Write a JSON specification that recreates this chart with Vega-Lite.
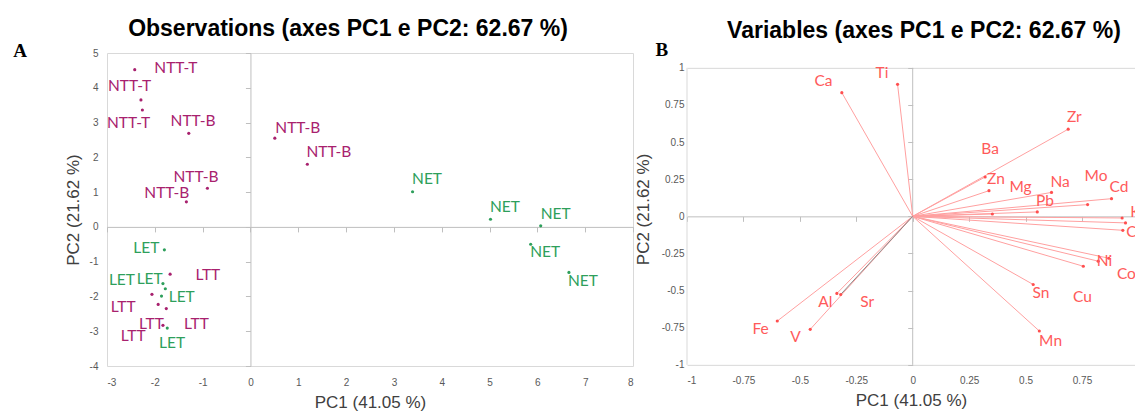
{
  "$schema": "https://vega.github.io/schema/vega-lite/v6.json",
  "padding": {"left": 12, "top": 17, "right": 0, "bottom": 0},
  "spacing": 0,
  "config": {
    "view": {"stroke": "#d9d9d9"},
    "axis": {"labelFont": "Liberation Sans", "labelFontSize": 10, "labelColor": "#595959", "titleFont": "Liberation Sans", "titleFontSize": 17, "titleFontWeight": "normal", "titleColor": "#404040", "grid": false},
    "title": {"font": "Liberation Sans", "fontSize": 23, "fontWeight": "bold", "color": "#000000"}
  },
  "datasets": {
    "obs": [
      {"label": "NTT-T", "PC1": -2.42, "PC2": 4.52, "lx": -2.01, "ly": 4.57},
      {"label": "NTT-T", "PC1": -2.29, "PC2": 3.65, "lx": -2.98, "ly": 4.04},
      {"label": "NTT-T", "PC1": -2.26, "PC2": 3.36, "lx": -3.0, "ly": 2.99},
      {"label": "NTT-B", "PC1": -1.29, "PC2": 2.69, "lx": -1.67, "ly": 3.05},
      {"label": "NTT-B", "PC1": -0.90, "PC2": 1.11, "lx": -1.61, "ly": 1.43},
      {"label": "NTT-B", "PC1": -1.34, "PC2": 0.72, "lx": -2.22, "ly": 0.97},
      {"label": "NTT-B", "PC1": 0.51, "PC2": 2.55, "lx": 0.52, "ly": 2.85},
      {"label": "NTT-B", "PC1": 1.19, "PC2": 1.80, "lx": 1.17, "ly": 2.15},
      {"label": "NET", "PC1": 3.39, "PC2": 1.01, "lx": 3.38, "ly": 1.37},
      {"label": "NET", "PC1": 5.02, "PC2": 0.22, "lx": 5.01, "ly": 0.57},
      {"label": "NET", "PC1": 6.07, "PC2": 0.03, "lx": 6.07, "ly": 0.36},
      {"label": "NET", "PC1": 5.86, "PC2": -0.50, "lx": 5.85, "ly": -0.73},
      {"label": "NET", "PC1": 6.66, "PC2": -1.31, "lx": 6.64, "ly": -1.56},
      {"label": "LET", "PC1": -1.80, "PC2": -0.66, "lx": -2.45, "ly": -0.61},
      {"label": "LET", "PC1": -1.83, "PC2": -1.63, "lx": -2.38, "ly": -1.51},
      {"label": "LET", "PC1": -1.78, "PC2": -1.78, "lx": -2.96, "ly": -1.54},
      {"label": "LET", "PC1": -1.86, "PC2": -1.99, "lx": -1.71, "ly": -2.01},
      {"label": "LET", "PC1": -1.74, "PC2": -2.91, "lx": -1.91, "ly": -3.35},
      {"label": "LTT", "PC1": -1.68, "PC2": -1.36, "lx": -1.15, "ly": -1.39},
      {"label": "LTT", "PC1": -2.06, "PC2": -1.94, "lx": -2.92, "ly": -2.29},
      {"label": "LTT", "PC1": -1.93, "PC2": -2.23, "lx": -2.33, "ly": -2.78},
      {"label": "LTT", "PC1": -1.76, "PC2": -2.35, "lx": -1.39, "ly": -2.80},
      {"label": "LTT", "PC1": -1.83, "PC2": -2.83, "lx": -2.71, "ly": -3.15}
    ],
    "vars": [
      {"name": "Ti", "PC1": -0.067, "PC2": 0.889, "lx": -0.136, "ly": 0.965},
      {"name": "Ca", "PC1": -0.314, "PC2": 0.833, "lx": -0.395, "ly": 0.911},
      {"name": "Zr", "PC1": 0.689, "PC2": 0.587, "lx": 0.716, "ly": 0.670},
      {"name": "Ba", "PC1": 0.321, "PC2": 0.265, "lx": 0.343, "ly": 0.455},
      {"name": "Zn", "PC1": 0.338, "PC2": 0.173, "lx": 0.369, "ly": 0.253},
      {"name": "Mg", "PC1": 0.353, "PC2": 0.016, "lx": 0.478, "ly": 0.199},
      {"name": "Na", "PC1": 0.615, "PC2": 0.161, "lx": 0.653, "ly": 0.233},
      {"name": "Pb", "PC1": 0.552, "PC2": 0.030, "lx": 0.586, "ly": 0.105},
      {"name": "Mo", "PC1": 0.775, "PC2": 0.079, "lx": 0.812, "ly": 0.273},
      {"name": "Cd", "PC1": 0.881, "PC2": 0.119, "lx": 0.914, "ly": 0.199},
      {"name": "K", "PC1": 0.928, "PC2": -0.011, "lx": 0.987, "ly": 0.032},
      {"name": "Li", "PC1": 0.943, "PC2": -0.044, "lx": 1.04, "ly": -0.03},
      {"name": "Cr", "PC1": 0.931, "PC2": -0.094, "lx": 0.982, "ly": -0.103},
      {"name": "Ni", "PC1": 0.822, "PC2": -0.302, "lx": 0.850, "ly": -0.304},
      {"name": "Co", "PC1": 0.869, "PC2": -0.282, "lx": 0.947, "ly": -0.385},
      {"name": "Cu", "PC1": 0.756, "PC2": -0.336, "lx": 0.752, "ly": -0.546},
      {"name": "Sn", "PC1": 0.534, "PC2": -0.459, "lx": 0.568, "ly": -0.519},
      {"name": "Mn", "PC1": 0.561, "PC2": -0.772, "lx": 0.611, "ly": -0.841},
      {"name": "Fe", "PC1": -0.600, "PC2": -0.705, "lx": -0.674, "ly": -0.761},
      {"name": "V", "PC1": -0.454, "PC2": -0.761, "lx": -0.519, "ly": -0.815},
      {"name": "Al", "PC1": -0.336, "PC2": -0.519, "lx": -0.387, "ly": -0.580},
      {"name": "Sr", "PC1": -0.319, "PC2": -0.526, "lx": -0.202, "ly": -0.580}
    ]
  },
  "hconcat": [
    {
      "width": 526,
      "height": 313,
      "title": {"text": "Observations (axes PC1 e PC2: 62.67 %)", "offset": 1.3, "dx": -22},
      "data": {"name": "obs"},
      "resolve": {"axis": {"x": "independent", "y": "independent"}},
      "layer": [
        {
          "mark": {"type": "circle", "size": 10, "opacity": 1},
          "encoding": {
            "x": {"field": "PC1", "type": "quantitative", "scale": {"domain": [-3, 8], "nice": false, "zero": false},
              "axis": {"orient": "bottom", "title": "PC1 (41.05 %)", "values": [-3, -2, -1, 0, 1, 2, 3, 4, 5, 6, 7, 8], "ticks": false, "tickSize": 0, "domain": false, "labelPadding": 11, "titlePadding": 7,
                "labelExpr": "datum.value < 0 ? '-' + format(-datum.value, '~g') : format(datum.value, '~g')"}},
            "y": {"field": "PC2", "type": "quantitative", "scale": {"domain": [-4, 5], "nice": false, "zero": false},
              "axis": {"orient": "left", "title": "PC2 (21.62 %)", "values": [-4, -3, -2, -1, 0, 1, 2, 3, 4, 5], "ticks": false, "tickSize": 0, "domain": false, "labelPadding": 9, "titlePadding": 7,
                "labelExpr": "datum.value < 0 ? '-' + format(-datum.value, '~g') : format(datum.value, '~g')"}},
            "color": {"field": "label", "type": "nominal", "scale": {"domain": ["NTT-T", "NTT-B", "LTT", "NET", "LET"], "range": ["#a8216e", "#a8216e", "#a8216e", "#2e9f5b", "#2e9f5b"]}, "legend": null}
          }
        },
        {
          "mark": {"type": "text", "font": "Lato", "fontSize": 15.5, "align": "left", "baseline": "middle"},
          "encoding": {
            "x": {"field": "lx", "type": "quantitative",
              "axis": {"orient": "bottom", "offset": -139.1, "labels": false, "ticks": true, "tickSize": 5, "tickColor": "#bfbfbf", "domain": true, "domainColor": "#bfbfbf", "title": null, "values": [-3, -2, -1, 0, 1, 2, 3, 4, 5, 6, 7, 8]}},
            "y": {"field": "ly", "type": "quantitative",
              "axis": {"orient": "left", "offset": -143.45, "labels": false, "ticks": true, "tickSize": 5, "tickColor": "#bfbfbf", "domain": true, "domainColor": "#bfbfbf", "title": null, "values": [-4, -3, -2, -1, 0, 1, 2, 3, 4, 5]}},
            "text": {"field": "label"},
            "color": {"field": "label", "type": "nominal", "legend": null}
          }
        },
        {
          "data": {"values": [{"letter": "A"}]},
          "mark": {"type": "text", "font": "Liberation Serif", "fontSize": 19, "fontWeight": "bold", "align": "left", "baseline": "alphabetic", "color": "#000000"},
          "encoding": {
            "x": {"datum": -4.96, "type": "quantitative", "axis": null},
            "y": {"datum": 4.89, "type": "quantitative", "axis": null},
            "text": {"field": "letter"}
          }
        }
      ]
    },
    {
      "width": 448,
      "height": 311.85,
      "view": {"stroke": null},
      "title": {"text": "Variables (axes PC1 e PC2: 62.67 %)", "offset": -1.5, "dx": 13},
      "data": {"name": "vars"},
      "resolve": {"axis": {"x": "independent", "y": "independent"}},
      "layer": [
        {
          "data": {"values": [{"edge": "left"}]},
          "mark": {"type": "rule", "color": "#d9d9d9", "strokeWidth": 1},
          "encoding": {
            "x": {"datum": -1, "type": "quantitative", "axis": null},
            "y": {"datum": -1, "type": "quantitative", "axis": null},
            "y2": {"datum": 1}
          }
        },
        {
          "data": {"values": [{"edge": "zero"}]},
          "mark": {"type": "rule", "color": "#bfbfbf", "strokeWidth": 1},
          "encoding": {
            "x": {"datum": 0, "type": "quantitative", "axis": null},
            "y": {"datum": -1, "type": "quantitative", "axis": null},
            "y2": {"datum": 1}
          }
        },
        {
          "mark": {"type": "rule", "strokeWidth": 1},
          "encoding": {
            "x": {"field": "PC1", "type": "quantitative", "scale": {"domain": [-1, 0.985], "nice": false, "zero": false},
              "axis": {"orient": "top", "offset": -14.85, "labels": false, "ticks": false, "domain": true, "domainColor": "#d9d9d9", "title": null}},
            "y": {"field": "PC2", "type": "quantitative", "scale": {"domain": [-1, 1.1], "nice": false, "zero": false}, "axis": null},
            "x2": {"datum": 0},
            "y2": {"datum": 0},
            "color": {"condition": {"test": "datum.name === 'Sr'", "value": "#8a8a8a"}, "value": "#ffa0a0"}
          }
        },
        {
          "mark": {"type": "circle", "size": 10, "opacity": 1, "color": "#ff4f4f"},
          "encoding": {
            "x": {"field": "PC1", "type": "quantitative",
              "axis": {"orient": "bottom", "title": "PC1 (41.05 %)", "values": [-1, -0.75, -0.5, -0.25, 0, 0.25, 0.5, 0.75], "ticks": false, "tickSize": 0, "domain": true, "domainColor": "#d9d9d9", "labelPadding": 11, "titlePadding": 7,
                "labelExpr": "datum.value < 0 ? '-' + format(-datum.value, '~g') : format(datum.value, '~g')"}},
            "y": {"field": "PC2", "type": "quantitative",
              "axis": {"orient": "left", "title": "PC2 (21.62 %)", "values": [-1, -0.75, -0.5, -0.25, 0, 0.25, 0.5, 0.75, 1], "ticks": false, "tickSize": 0, "domain": false, "labelPadding": 3, "titlePadding": 9,
                "labelExpr": "datum.value < 0 ? '-' + format(-datum.value, '~g') : format(datum.value, '~g')"}}
          }
        },
        {
          "mark": {"type": "text", "font": "Lato", "fontSize": 15.5, "align": "center", "baseline": "middle", "color": "#ff5a5a", "clip": true},
          "encoding": {
            "x": {"field": "lx", "type": "quantitative",
              "axis": {"orient": "bottom", "offset": -148.5, "labels": false, "ticks": true, "tickSize": 5, "tickColor": "#bfbfbf", "domain": true, "domainColor": "#bfbfbf", "title": null, "values": [-1, -0.75, -0.5, -0.25, 0, 0.25, 0.5, 0.75]}},
            "y": {"field": "ly", "type": "quantitative",
              "axis": {"orient": "left", "offset": -225.7, "labels": false, "ticks": true, "tickSize": 5, "tickColor": "#bfbfbf", "domain": false, "title": null, "values": [-1, -0.75, -0.5, -0.25, 0, 0.25, 0.5, 0.75, 1]}},
            "text": {"field": "name"}
          }
        },
        {
          "data": {"values": [{"letter": "B"}]},
          "mark": {"type": "text", "font": "Liberation Serif", "fontSize": 19, "fontWeight": "bold", "align": "left", "baseline": "alphabetic", "color": "#000000"},
          "encoding": {
            "x": {"datum": -1.14, "type": "quantitative", "axis": null},
            "y": {"datum": 1.079, "type": "quantitative", "axis": null},
            "text": {"field": "letter"}
          }
        }
      ]
    }
  ]
}
